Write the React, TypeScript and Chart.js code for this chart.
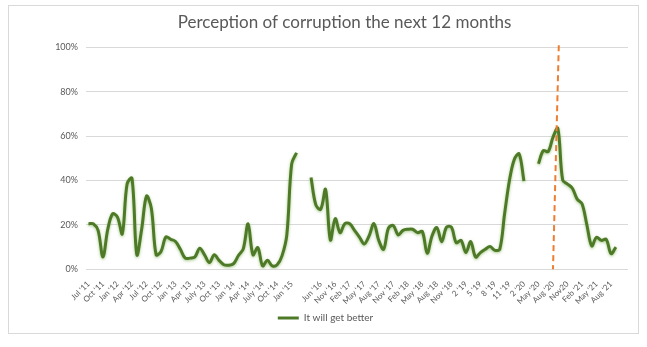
import React, { useEffect, useRef } from 'react';
import { Chart, registerables } from 'chart.js';

Chart.register(...registerables);

// Tick labels: one label every 3 categories ('' = no label shown)
const labelEvery = 3;
const tickLabels = [
  "Jul '11", "Oct '11", "Jan '12", "Apr '12", "Jul '12", "Oct '12", "Jan '13", "Apr '13",
  "July '13", "Oct '13", "Jan '14", "Apr '14", "July '14", "Oct '14", "Jan '15", "",
  "Jun '16", "Nov '16", "Feb '17", "May '17", "Aug '17", "Nov '17", "Feb '18", "May '18",
  "Aug '18", "Nov '18", "2 '19", "5 '19", "8 '19", "11 '19", "2 '20", "May '20",
  "Aug '20", "Nov20", "Feb '21", "May '21", "Aug '21", "",
];

// Series "It will get better" (%), three survey waves separated by gaps
const wave2011to2015 = [
  20.5, 20.5, 17.5, 5.5, 18, 25, 23.5, 16, 38.5, 41, 6.5, 18, 33, 27.5, 6.5, 8,
  14.5, 13.5, 12.5, 9, 5, 5, 5.5, 9.5, 6.5, 3, 6.5, 4, 2, 1.8, 2.5, 6.2,
  9.2, 20.5, 6.5, 9.8, 1.5, 4, 1.5, 2, 6, 15.5, 47.5, 52.5,
];
const gapA = [null, null];
const wave2016to2020 = [
  41.4, 29, 27, 36, 13.2, 22.8, 16.5, 20.6, 20.5, 17.5, 14.5, 11.4, 15, 20.6, 13, 9,
  18.5, 19.7, 15.5, 17.5, 18, 18, 16.5, 17, 7.2, 15, 18.8, 12.4, 19, 19, 12, 13,
  7.5, 12.5, 5.5, 7.5, 9, 10.2, 8.5, 9, 25, 40, 49.5, 52, 39.8,
];
const gapB = [null, null];
const wave2020to2021 = [
  47.5, 53.5, 53, 59.5, 63.5, 40.2, 38.4, 36.5, 31.6, 29.5, 20, 10.5, 14.4, 13, 13.5, 7, 10,
];
const trailing = [null, null];

const seriesValues: (number | null)[] = [
  ...wave2011to2015, ...gapA, ...wave2016to2020, ...gapB, ...wave2020to2021, ...trailing,
];
const categories: string[] = seriesValues.map((_, i) =>
  i % labelEvery === 0 ? tickLabels[i / labelEvery] ?? '' : ''
);

// Dashed marker line (category positions at top and bottom of the plot)
const markerTopIndex = 97.2;
const markerBottomIndex = 96.0;

const glowPlugin = {
  id: 'glow',
  beforeDatasetDraw(chart: any) {
    const ctx = chart.ctx;
    ctx.save();
    ctx.shadowColor = 'rgba(130,180,90,0.7)';
    ctx.shadowBlur = 3;
    ctx.shadowOffsetY = 1;
  },
  afterDatasetDraw(chart: any) {
    chart.ctx.restore();
  },
};

// Title and legend in the reference sit a little right of the chart centre
const titleShift = 52;
const legendShift = 7;
const shiftPlugin = {
  id: 'blockShift',
  afterLayout(chart: any) {
    if (chart.titleBlock) chart.titleBlock.left += titleShift;
    if (chart.legend) {
      chart.legend.left += legendShift;
      chart.legend.right += legendShift;
    }
  },
};

const markerPlugin = {
  id: 'marker',
  afterDatasetsDraw(chart: any) {
    const { ctx, scales } = chart;
    const x = scales.x;
    const y = scales.y;
    const xt = x.getPixelForValue(markerTopIndex);
    const xb = x.getPixelForValue(markerBottomIndex);
    const yt = y.getPixelForValue(101);
    const yb = y.getPixelForValue(0);
    ctx.save();
    ctx.strokeStyle = '#ED7D31';
    ctx.lineWidth = 2;
    ctx.setLineDash([6, 4]);
    ctx.beginPath();
    ctx.moveTo(xt, yt);
    ctx.lineTo(xb, yb);
    ctx.stroke();
    ctx.restore();
  },
};

export default function App() {
  const ref = useRef<HTMLCanvasElement | null>(null);

  useEffect(() => {
    if (!ref.current) return;
    const chart = new Chart(ref.current, {
      type: 'line',
      data: {
        labels: categories,
        datasets: [
          {
            label: 'It will get better',
            data: seriesValues,
            borderColor: '#4E7A28',
            backgroundColor: '#4E7A28',
            borderWidth: 3,
            pointRadius: 0,
            pointHoverRadius: 0,
            tension: 0.35,
            spanGaps: false,
            fill: false,
          },
        ],
      },
      options: {
        animation: false,
        responsive: false,
        layout: { padding: { left: 0, right: 10, top: 0, bottom: 0 } },
        plugins: {
          title: {
            display: true,
            text: 'Perception of corruption the next 12 months',
            color: '#595959',
            font: { family: 'Lato', size: 17, weight: 'normal' },
            padding: { top: 6, bottom: 15 },
          },
          legend: {
            display: true,
            position: 'bottom',
            labels: {
              color: '#595959',
              font: { family: 'Lato', size: 10 },
              usePointStyle: true,
              pointStyle: 'line',
              pointStyleWidth: 21,
              padding: 8,
            },
          },
          tooltip: { enabled: false },
        },
        scales: {
          x: {
            offset: true,
            grid: { display: false },
            border: { display: false },
            afterFit: (scale: any) => {
              scale.height = scale.height - 3;
            },
            ticks: {
              autoSkip: false,
              maxRotation: 45,
              minRotation: 45,
              color: '#595959',
              font: { family: 'Lato', size: 8 },
              padding: 2,
            },
          },
          y: {
            min: 0,
            max: 100,
            afterFit: (scale: any) => {
              scale.width = 77;
            },
            grid: { color: '#D9D9D9', drawTicks: false },
            border: { display: false },
            ticks: {
              stepSize: 20,
              color: '#595959',
              font: { family: 'Lato', size: 9 },
              padding: 8,
              callback: (v: any) => v + '%',
            },
          },
        },
      },
      plugins: [glowPlugin, shiftPlugin, markerPlugin],
    });
    return () => chart.destroy();
  }, []);

  return (
    <div
      style={{
        position: 'absolute',
        left: 8,
        top: 5,
        width: 629,
        height: 327,
        border: '1px solid #D9D9D9',
        background: '#fff',
      }}
    >
      <canvas ref={ref} width={629} height={327} style={{ display: 'block' }} />
    </div>
  );
}
